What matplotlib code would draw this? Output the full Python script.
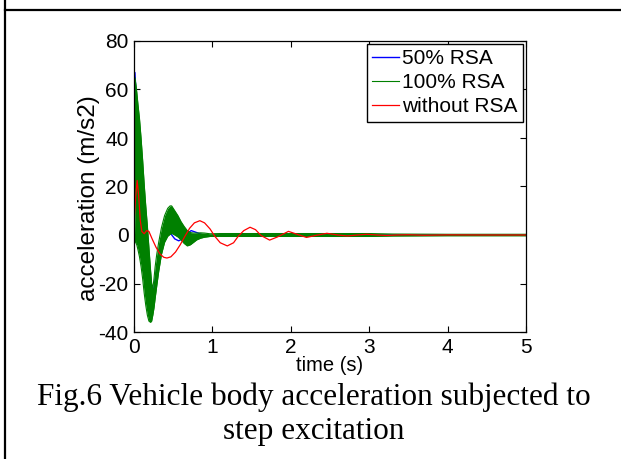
import matplotlib
matplotlib.use('Agg')
import matplotlib.pyplot as plt
from matplotlib.lines import Line2D

plt.rcParams['font.family'] = ['Liberation Sans', 'DejaVu Sans']
plt.rcParams['axes.unicode_minus'] = False

# without RSA (red)
red_t = [0.00, 0.02, 0.04, 0.06, 0.08, 0.10, 0.13, 0.16, 0.19, 0.23, 0.28, 0.33, 0.38, 0.42,
         0.47, 0.53, 0.59, 0.65, 0.71, 0.77, 0.84, 0.90, 0.97, 1.03, 1.10, 1.19, 1.27, 1.33,
         1.40, 1.48, 1.55, 1.62, 1.73, 1.83, 1.97, 2.08, 2.20, 2.33, 2.46, 2.60, 2.72, 2.85,
         2.97, 3.10, 3.22, 3.35, 3.50, 3.70, 4.00, 4.50, 5.00]
red_v = [5, 15, 22.5, 16, 6, 1.5, 0.5, 1.8, 1.5, -1.5, -5, -7.8, -9.2, -9.5,
         -9, -7, -4, -0.5, 2.8, 5, 5.9, 5, 2.5, -0.5, -3.2, -4.5, -3.2, -0.5,
         1.8, 3.2, 2.2, -0.2, -2.1, -0.8, 1.5, 0.3, -1, -0.1, 0.7, 0, -0.4, 0,
         0.3, 0, -0.2, 0, 0.1, -0.1, 0.05, 0, 0]

# 50% RSA (blue)
blue_t = [0.00, 0.012, 0.03, 0.06, 0.09, 0.12, 0.15, 0.19, 0.23, 0.28, 0.33, 0.38, 0.43,
          0.47, 0.52, 0.57, 0.62, 0.68, 0.73, 0.80, 0.88, 0.95, 1.05, 1.50, 5.00]
blue_v = [0, 67, 56, 36, 15, -5, -20, -29, -27, -16, -5, 1, 2,
          0.5, -1.6, -2.4, -1.6, 0.8, 1.8, 1.0, 0, -0.3, 0, 0, 0]

# 100% RSA (green) - upper / lower edge of the fast oscillating band
green_t = [0.000, 0.008, 0.020, 0.035, 0.050, 0.070, 0.090, 0.110, 0.130, 0.150, 0.170,
           0.190, 0.210, 0.225, 0.240, 0.255, 0.270, 0.290, 0.315, 0.350, 0.390, 0.430,
           0.460, 0.480, 0.520, 0.560, 0.600, 0.640, 0.680, 0.720, 0.760, 0.800, 0.850,
           0.900, 0.970, 1.100, 2.000, 3.000, 3.300, 4.000, 5.000]
green_hi = [0, 65, 63, 59, 54, 48, 40, 31, 21, 12, 4,
            -5, -14, -20, -22, -18, -13, -8, -3, 3, 8, 11,
            12, 12, 10, 8, 5.5, 3.5, 1.8, 1.0, 0.8, 0.8, 0.9,
            0.8, 0.5, 0.6, 0.6, 0.6, 0.4, 0.3, 0.3]
green_lo = [0, 20, -3, -4, -6, -9, -13, -18, -24, -29, -33,
            -35.5, -36, -35.5, -33, -30, -26, -21, -15, -8, -3, -0.5,
            0.3, 0.7, 0, -0.8, -2, -3.5, -4.5, -4, -3, -2, -1.3,
            -0.9, -0.6, -0.6, -0.6, -0.6, -0.4, -0.3, -0.3]

x_ticks = [0, 1, 2, 3, 4, 5]
y_ticks = [-40, -20, 0, 20, 40, 60, 80]

fig = plt.figure(figsize=(6.21, 4.59), dpi=100)
ax = fig.add_axes([134 / 621, 1 - 332 / 459, 392 / 621, 291 / 459])

ax.plot(blue_t, blue_v, color='#0000ff', lw=1.0, label='50% RSA', zorder=2)
ax.fill_between(green_t, green_lo, green_hi, color='#008000', lw=0, zorder=2.1)
ax.plot(green_t, green_hi, color='#008000', lw=0.8, label='100% RSA', zorder=2.2)
ax.plot(green_t, green_lo, color='#008000', lw=0.8, zorder=2.2)
ax.plot(red_t, red_v, color='#ff0000', lw=0.9, label='without RSA', zorder=2.3)

ax.set_xlim(0, 5)
ax.set_ylim(-40, 80)
ax.set_xticks(x_ticks)
ax.set_yticks(y_ticks)
ax.tick_params(direction='in', length=4, width=0.8, top=True, right=True,
               labelsize=15, pad=4)
for s in ax.spines.values():
    s.set_linewidth(0.9)
ax.set_xlabel('time (s)', fontsize=14.5)
ax.xaxis.set_label_coords(0.5, -0.082)
ax.set_ylabel('acceleration (m/s2)', fontsize=17.5)
ax.yaxis.set_label_coords(-0.086, 0.46)

leg = ax.legend(loc='upper right', fontsize=15, handlelength=1.3, handletextpad=0.15,
                labelspacing=0.24, borderpad=0.25, borderaxespad=0.15, fancybox=False,
                framealpha=1, edgecolor='black')
leg.get_frame().set_linewidth(1.0)

fig.text(0.505, 1 - 397 / 459, 'Fig.6 Vehicle body acceleration subjected to',
         ha='center', va='center', fontsize=22.5, family='Liberation Serif')
fig.text(0.505, 1 - 431 / 459, 'step excitation',
         ha='center', va='center', fontsize=22.5, family='Liberation Serif')

# table border lines of the original page
fig.add_artist(Line2D([5 / 621, 5 / 621], [0, 1], color='black', lw=1.6))
fig.add_artist(Line2D([5 / 621, 1], [1 - 10 / 459, 1 - 10 / 459], color='black', lw=1.6))

fig.savefig('out.png', dpi=100)
